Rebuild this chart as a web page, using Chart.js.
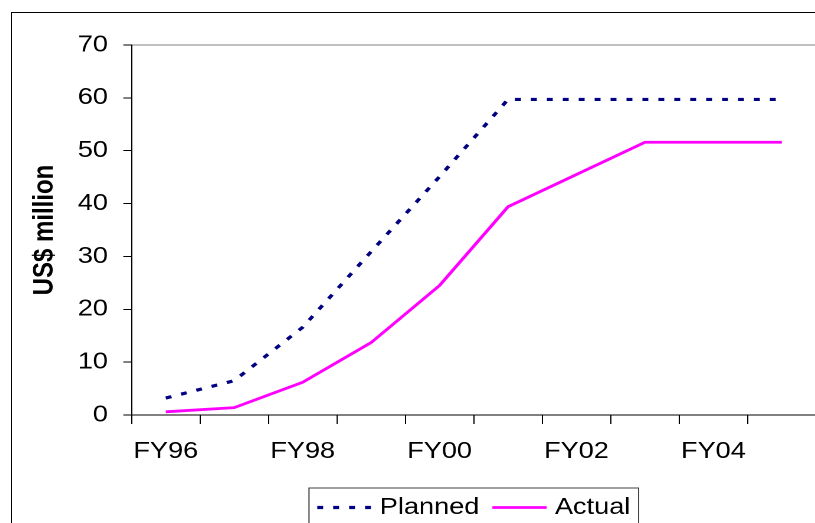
<!DOCTYPE html>
<html>
<head>
<meta charset="utf-8">
<script src="https://cdn.jsdelivr.net/npm/chart.js@4.4.1/dist/chart.umd.min.js"></script>
<style>
  html, body { margin: 0; padding: 0; background: #fff; overflow: hidden; }
  #frame { position: absolute; left: 11px; top: 12px; width: 900px; height: 600px; border: 1px solid #000; }
  /* the original picture is stretched sideways, so the canvas is too */
  #chart { position: absolute; left: 12px; top: 13px; transform: scaleX(1.18); transform-origin: 0 0; }
</style>
</head>
<body>
<div id="frame"></div>
<canvas id="chart" width="700" height="530" style="width:700px;height:530px"></canvas>
<script>
const years = ['FY96', 'FY97', 'FY98', 'FY99', 'FY00', 'FY01', 'FY02', 'FY03', 'FY04', 'FY05'];
const planned = [3.2, 6.5, 16.6, 30.9, 45.1, 59.7, 59.7, 59.7, 59.7, 59.7];
const actual = [0.6, 1.4, 6.2, 13.7, 24.5, 39.4, 45.5, 51.6, 51.6, 51.6];

const FONT = '"Liberation Sans", Arial, sans-serif';

// Legend drawn by hand so it can sit in a box centred under the plot
const legendBox = {
    id: 'legendBox',
    afterDraw(chart) {
        const ctx = chart.ctx;
        const area = chart.chartArea;
        const sets = chart.data.datasets;
        const sample = 46, gap = 7, between = 11, pad = 7;

        ctx.save();
        ctx.font = '23px ' + FONT;
        const widths = sets.map(d => ctx.measureText(d.label).width);
        let total = pad * 2 + (sets.length - 1) * between;
        widths.forEach(w => total += sample + gap + w);

        let x = (area.left + area.right) / 2 - total / 2;
        const top = area.bottom + 73;
        const cy = top + 19.5;

        ctx.strokeStyle = '#404040';
        ctx.lineWidth = 1;
        ctx.strokeRect(x, top, total, 44);

        x += pad;
        sets.forEach((d, i) => {
            ctx.beginPath();
            ctx.setLineDash(d.borderDash || []);
            ctx.strokeStyle = d.borderColor;
            ctx.lineWidth = d.borderWidth;
            ctx.moveTo(x, cy);
            ctx.lineTo(x + sample, cy);
            ctx.stroke();
            ctx.setLineDash([]);
            x += sample + gap;
            ctx.fillStyle = '#000';
            ctx.textBaseline = 'middle';
            ctx.textAlign = 'left';
            ctx.fillText(d.label, x, cy);
            x += widths[i] + between;
        });
        ctx.restore();
    }
};

const chart = new Chart(document.getElementById('chart'), {
    type: 'line',
    data: {
        labels: years,
        datasets: [{
            label: 'Planned',
            data: planned,
            borderColor: '#000080',
            borderWidth: 3.2,
            borderDash: [5, 8.5],
            pointRadius: 0,
            fill: false,
            tension: 0
        }, {
            label: 'Actual',
            data: actual,
            borderColor: '#ff00ff',
            borderWidth: 2.8,
            pointRadius: 0,
            fill: false,
            tension: 0
        }]
    },
    options: {
        responsive: false,
        animation: false,
        devicePixelRatio: 2,
        layout: {
            padding: { top: 32, right: 18.6, bottom: 68, left: 0 }
        },
        plugins: {
            legend: { display: false },
            tooltip: { enabled: false }
        },
        scales: {
            x: {
                offset: true,
                grid: {
                    offset: true,
                    drawOnChartArea: false,
                    tickLength: 9,
                    color: '#000',
                    tickColor: '#000'
                },
                border: { color: '#000', width: 1 },
                ticks: {
                    autoSkip: false,
                    maxRotation: 0,
                    padding: 14,
                    color: '#000',
                    font: { family: FONT, size: 23 },
                    // only every second year gets a label
                    callback: function (value, index) {
                        return index % 2 === 0 ? this.getLabelForValue(value) : '';
                    }
                },
                afterFit: scale => { scale.height = 60; }
            },
            y: {
                min: 0,
                max: 70,
                ticks: {
                    stepSize: 10,
                    padding: 13,
                    color: '#000',
                    font: { family: FONT, size: 23 }
                },
                grid: {
                    tickLength: 7,
                    color: ctx => ctx.tick && ctx.tick.value === 70 ? '#808080' : 'rgba(0,0,0,0)',
                    tickColor: '#000'
                },
                border: { color: '#000', width: 1 },
                title: {
                    display: true,
                    text: 'US$ million',
                    color: '#000',
                    font: { family: FONT, size: 24, weight: 'bold' },
                    padding: { top: 13.6, bottom: 0 }
                },
                afterFit: scale => { scale.width = 101.3; }
            }
        }
    },
    plugins: [legendBox]
});
</script>
</body>
</html>
